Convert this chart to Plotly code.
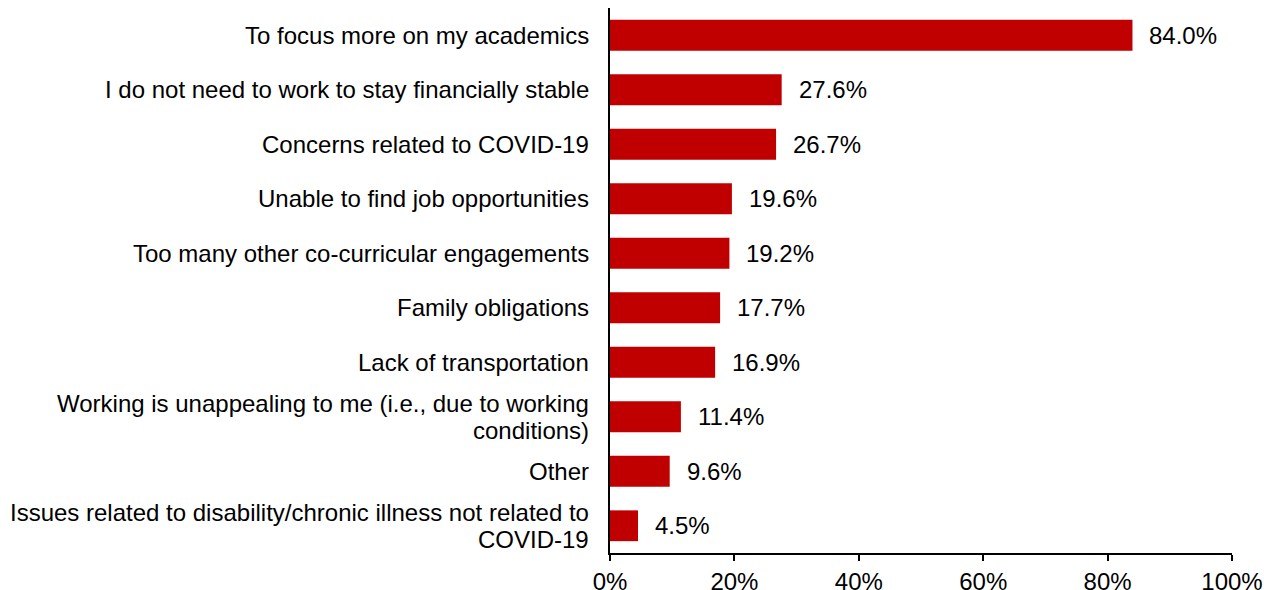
import plotly.graph_objects as go

categories = [
    "To focus more on my academics",
    "I do not need to work to stay financially stable",
    "Concerns related to COVID-19",
    "Unable to find job opportunities",
    "Too many other co-curricular engagements",
    "Family obligations",
    "Lack of transportation",
    "Working is unappealing to me (i.e., due to working\nconditions)",
    "Other",
    "Issues related to disability/chronic illness not related to\nCOVID-19",
]
values = [84.0, 27.6, 26.7, 19.6, 19.2, 17.7, 16.9, 11.4, 9.6, 4.5]
x_ticks = [0, 20, 40, 60, 80, 100]
x_tick_labels = ["0%", "20%", "40%", "60%", "80%", "100%"]

FONT = "Liberation Sans, Arial, sans-serif"
FS = 24
LINE_GAP = 27

fig = go.Figure(
    go.Bar(
        x=values,
        y=categories,
        orientation="h",
        marker=dict(color="#C00000", line=dict(width=0)),
        width=0.565,
    )
)

for c, v in zip(categories, values):
    fig.add_annotation(
        x=v, y=c, text=f"{v:.1f}%", showarrow=False,
        xanchor="left", xshift=15,
        font=dict(family=FONT, size=FS, color="#000000"),
    )
    lines = c.split("\n")
    n = len(lines)
    for i, line in enumerate(lines):
        fig.add_annotation(
            x=0, xref="paper", y=c, yref="y", text=line, showarrow=False,
            xanchor="right", xshift=-19,
            yshift=((n - 1) / 2 - i) * LINE_GAP,
            font=dict(family=FONT, size=FS, color="#000000"),
        )

fig.update_layout(
    width=1264, height=590,
    margin=dict(l=610, r=32, t=8, b=37),
    plot_bgcolor="white", paper_bgcolor="white",
    showlegend=False,
    font=dict(family=FONT, size=FS, color="#000000"),
    xaxis=dict(
        range=[0, 100], tickvals=x_ticks, ticktext=x_tick_labels,
        showgrid=False, zeroline=False, automargin=False,
        showline=True, linecolor="#000000", linewidth=1.5,
        ticks="outside", ticklen=6, tickcolor="#000000", tickwidth=1.5,
        tickfont=dict(family=FONT, size=FS, color="#000000"),
    ),
    yaxis=dict(
        categoryorder="array", categoryarray=categories[::-1],
        autorange=False, range=[-0.5, len(categories) - 0.5],
        showgrid=False, zeroline=False, automargin=False,
        showline=True, linecolor="#000000", linewidth=1.5,
        ticks="", showticklabels=False,
    ),
)

fig.write_html("out.html")
